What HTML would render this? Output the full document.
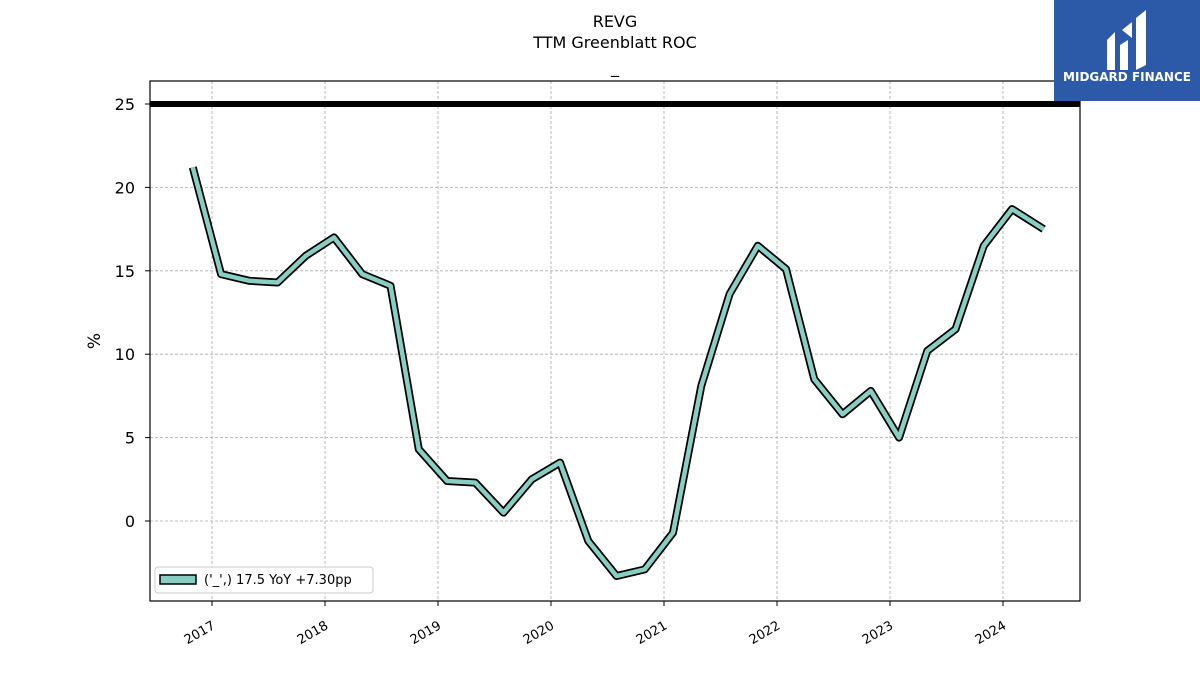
<!DOCTYPE html>
<html><head><meta charset="utf-8"><style>
body{margin:0;background:#fff;width:1200px;height:675px;overflow:hidden;font-family:"Liberation Sans","DejaVu Sans",sans-serif}
</style></head><body>
<svg id="chart" width="1200" height="675" xmlns="http://www.w3.org/2000/svg" font-family="DejaVu Sans, Liberation Sans, sans-serif">
<text x="615" y="27" font-size="16" text-anchor="middle">REVG</text>
<text x="615" y="48" font-size="16" text-anchor="middle">TTM Greenblatt ROC</text>
<text x="615" y="73" font-size="16" text-anchor="middle">_</text>
<g id="grid"></g>
<g id="series"></g>
<rect x="150" y="81" width="930" height="520" fill="none" stroke="#000" stroke-width="1.2"/>
<g id="axes"></g>
<text transform="translate(100,341) rotate(-90)" font-size="17" text-anchor="middle">%</text>
<g>
<rect x="155" y="567" width="218" height="26" rx="3" fill="#fff" stroke="#ccc"/>
<rect x="160" y="575" width="36" height="9" fill="#88cfc3" stroke="#000" stroke-width="1.5"/>
<text x="204" y="584" font-size="13">('_',) 17.5 YoY +7.30pp</text>
</g>
<g>
<rect x="1054" y="0" width="146" height="101" fill="#2c5aa8"/>
<path d="M1107 40 L1115 32 L1115 70 L1107 70 Z M1120 45 L1128 40 L1128 70 L1120 70 Z M1122 30 L1132 22 L1132 38 Z M1136 18 L1146 10 L1146 65 L1136 70 Z" fill="#fff"/>
<text x="1127" y="81" font-size="12" font-weight="bold" fill="#fff" text-anchor="middle">MIDGARD FINANCE</text>
</g>
</svg>
<script>
const dates=[2016.83,2017.08,2017.33,2017.58,2017.83,2018.08,2018.33,2018.58,2018.83,2019.08,2019.33,2019.58,2019.83,2020.08,2020.33,2020.58,2020.83,2021.08,2021.33,2021.58,2021.83,2022.08,2022.33,2022.58,2022.83,2023.08,2023.33,2023.58,2023.83,2024.08,2024.36];
const values=[21.2,14.8,14.4,14.3,15.9,17.0,14.8,14.1,4.3,2.4,2.3,0.5,2.5,3.5,-1.2,-3.3,-2.9,-0.7,8.1,13.6,16.5,15.1,8.5,6.4,7.8,5.0,10.2,11.5,16.5,18.7,17.5];
const yTicks=[0,5,10,15,20,25];
const xTicks=[2017,2018,2019,2020,2021,2022,2023,2024];
const refLine=25;
const NS="http://www.w3.org/2000/svg";
const X=d=>212+(d-2017)*113;
const Y=v=>521-v*16.68;
function mk(t,a,p){const e=document.createElementNS(NS,t);for(const k in a)e.setAttribute(k,a[k]);p.appendChild(e);return e;}
const grid=document.getElementById('grid'),axes=document.getElementById('axes'),ser=document.getElementById('series');
yTicks.forEach(v=>{
 const g=mk('line',{x1:150,x2:1080,y1:Y(v),y2:Y(v),stroke:'#aaa','stroke-dasharray':'3,2','stroke-width':0.8},grid);
 
 const t=mk('line',{x1:145,x2:150,y1:Y(v),y2:Y(v),stroke:'#000'},axes);
 
 const l=mk('text',{x:135,y:Y(v)+6,'font-size':16,'text-anchor':'end'},axes);l.textContent=v;
 
});
xTicks.forEach(v=>{
 const g=mk('line',{x1:X(v),x2:X(v),y1:81,y2:601,stroke:'#aaa','stroke-dasharray':'3,2','stroke-width':0.8},grid);
 
 const t=mk('line',{x1:X(v),x2:X(v),y1:601,y2:606,stroke:'#000'},axes);
 
 const l=mk('text',{x:X(v)+4,y:628,'font-size':13,'text-anchor':'end',transform:`rotate(-30 ${X(v)+4} 628)`},axes);l.textContent=v;
 
});
const r=mk('line',{x1:150,x2:1080,y1:Y(refLine),y2:Y(refLine),stroke:'#000','stroke-width':6},ser);

const pts=dates.map((d,i)=>X(d)+','+Y(values[i])).join(' ');
const o=mk('polyline',{points:pts,fill:'none',stroke:'#000','stroke-width':8,'stroke-linejoin':'round'},ser);

const p=mk('polyline',{points:pts,fill:'none',stroke:'#88cfc3','stroke-width':4.5,'stroke-linejoin':'round'},ser);

</script>
</body></html>
